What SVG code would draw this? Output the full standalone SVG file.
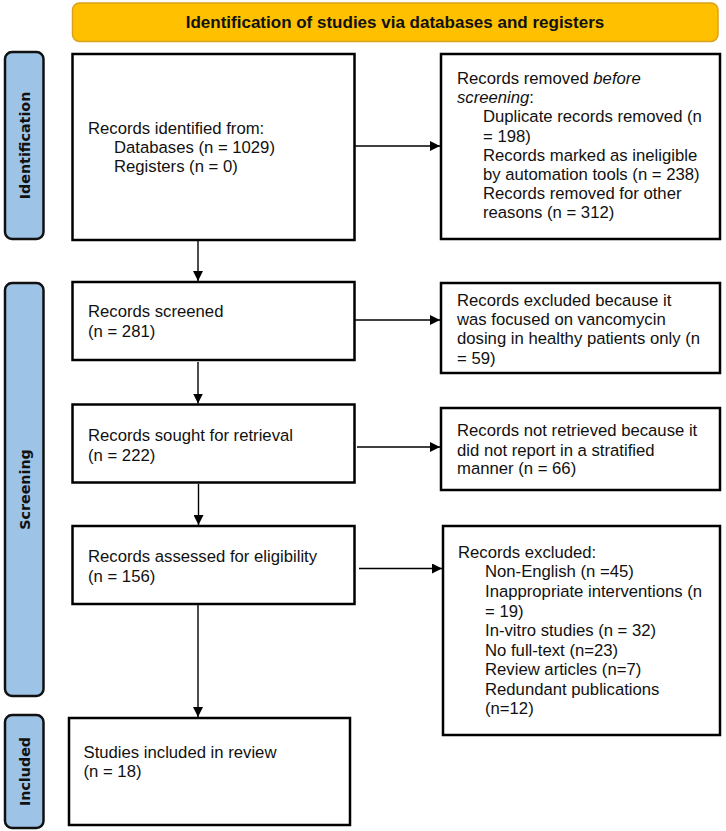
<svg xmlns="http://www.w3.org/2000/svg" width="726" height="831" viewBox="0 0 726 831">
<defs>
<style>
.box{fill:#fff;stroke:#000;stroke-width:2.5}
.side{fill:#9DC3E6;stroke:#111;stroke-width:2.5}
.t{font-family:"Liberation Sans",Arial,sans-serif;font-size:16.7px;fill:#111}
.st{font-family:"DejaVu Sans",Verdana,sans-serif;font-size:14.3px;font-weight:bold;fill:#111}
.hd{font-family:"Liberation Sans",Arial,sans-serif;font-size:17px;font-weight:bold;fill:#111}
.c{fill:none;stroke:#000;stroke-width:1.4}
</style>
<marker id="ah" viewBox="0 0 10 10" refX="10" refY="5" markerWidth="10" markerHeight="10" markerUnits="userSpaceOnUse" orient="auto">
<path d="M0,0 L10,5 L0,10 Z" fill="#000"/>
</marker>
</defs>
<rect width="726" height="831" fill="#fff"/>

<g id="header">
<rect x="72.5" y="3" width="645.5" height="38.5" rx="7" fill="#FFC000" stroke="#D9A21C" stroke-width="1.5"/>
<text class="hd" x="395" y="27.5" text-anchor="middle">Identification of studies via databases and registers</text>
</g>

<g id="side-identification">
<rect class="side" x="5" y="52" width="38.5" height="187" rx="7"/>
<text class="st" transform="translate(29.5,145.5) rotate(-90)" text-anchor="middle">Identification</text>
</g>
<g id="side-screening">
<rect class="side" x="5" y="283" width="38.5" height="413" rx="7"/>
<text class="st" transform="translate(29.5,489.5) rotate(-90)" text-anchor="middle">Screening</text>
</g>
<g id="side-included">
<rect class="side" x="5" y="715" width="38.5" height="113" rx="7"/>
<text class="st" transform="translate(29.5,771.5) rotate(-90)" text-anchor="middle">Included</text>
</g>

<g id="identified">
<rect class="box" x="72.5" y="54" width="282" height="186"/>
<text class="t" x="88" y="134">Records identified from:</text>
<text class="t" x="114" y="153">Databases (n = 1029)</text>
<text class="t" x="114" y="171.5">Registers (n = 0)</text>
</g>

<g id="removed">
<rect class="box" x="441" y="54" width="279" height="185"/>
<text class="t" x="457" y="84">Records removed <tspan font-style="italic">before</tspan></text>
<text class="t" x="457" y="103"><tspan font-style="italic">screening</tspan>:</text>
<text class="t" x="483" y="122">Duplicate records removed (n</text>
<text class="t" x="483" y="142">= 198)</text>
<text class="t" x="483" y="161">Records marked as ineligible</text>
<text class="t" x="483" y="180">by automation tools (n = 238)</text>
<text class="t" x="483" y="199">Records removed for other</text>
<text class="t" x="483" y="218">reasons (n = 312)</text>
</g>

<g id="screened">
<rect class="box" x="72.5" y="282" width="282" height="78"/>
<text class="t" x="88" y="317">Records screened</text>
<text class="t" x="88" y="337">(n = 281)</text>
</g>

<g id="excluded-screen">
<rect class="box" x="441" y="283" width="279" height="90"/>
<text class="t" x="457" y="305.5">Records excluded because it</text>
<text class="t" x="457" y="325">was focused on vancomycin</text>
<text class="t" x="457" y="344">dosing in healthy patients only (n</text>
<text class="t" x="457" y="364">= 59)</text>
</g>

<g id="sought">
<rect class="box" x="72.5" y="404.5" width="282" height="78"/>
<text class="t" x="88" y="441">Records sought for retrieval</text>
<text class="t" x="88" y="461">(n = 222)</text>
</g>

<g id="not-retrieved">
<rect class="box" x="441" y="408" width="279" height="82"/>
<text class="t" x="457" y="436">Records not retrieved because it</text>
<text class="t" x="457" y="455.5">did not report in a stratified</text>
<text class="t" x="457" y="474">manner (n = 66)</text>
</g>

<g id="assessed">
<rect class="box" x="72.5" y="526" width="282" height="78"/>
<text class="t" x="88" y="562">Records assessed for eligibility</text>
<text class="t" x="88" y="581.5">(n = 156)</text>
</g>

<g id="excluded-full">
<rect class="box" x="443" y="526" width="277" height="209"/>
<text class="t" x="458" y="558">Records excluded:</text>
<text class="t" x="485" y="577">Non-English (n =45)</text>
<text class="t" x="485" y="597">Inappropriate interventions (n</text>
<text class="t" x="485" y="617">= 19)</text>
<text class="t" x="485" y="636">In-vitro studies (n = 32)</text>
<text class="t" x="485" y="656">No full-text (n=23)</text>
<text class="t" x="485" y="675">Review articles (n=7)</text>
<text class="t" x="485" y="695">Redundant publications</text>
<text class="t" x="485" y="714">(n=12)</text>
</g>

<g id="included">
<rect class="box" x="69" y="718" width="281" height="107"/>
<text class="t" x="83.5" y="757.5">Studies included in review</text>
<text class="t" x="83.5" y="777">(n = 18)</text>
</g>

<g id="connectors">
<line class="c" x1="355" y1="146" x2="440" y2="146" marker-end="url(#ah)"/>
<line class="c" x1="355" y1="320" x2="440" y2="320" marker-end="url(#ah)"/>
<line class="c" x1="357" y1="447" x2="440" y2="447" marker-end="url(#ah)"/>
<line class="c" x1="359" y1="568.5" x2="442" y2="568.5" marker-end="url(#ah)"/>
<line class="c" x1="198" y1="241" x2="198" y2="281" marker-end="url(#ah)"/>
<line class="c" x1="198" y1="362" x2="198" y2="403.5" marker-end="url(#ah)"/>
<line class="c" x1="198.5" y1="484" x2="198.5" y2="525" marker-end="url(#ah)"/>
<line class="c" x1="198" y1="605" x2="198" y2="717" marker-end="url(#ah)"/>
</g>
</svg>
